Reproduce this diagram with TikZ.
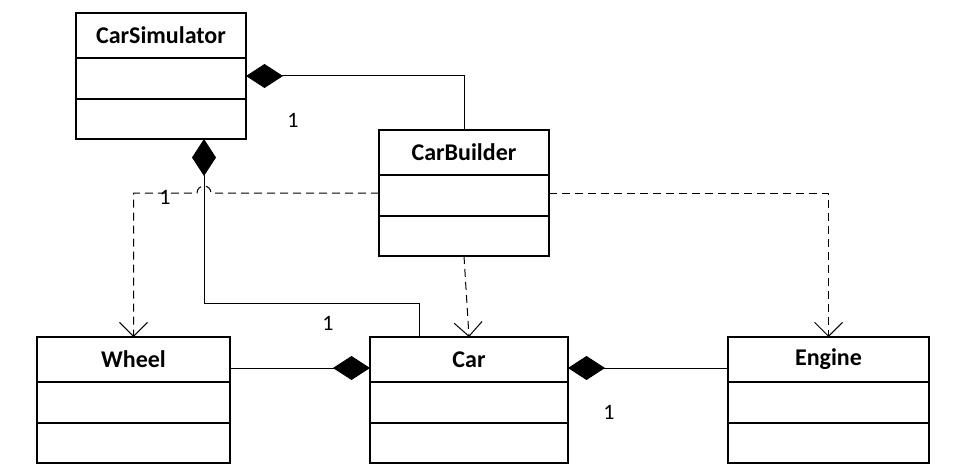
\documentclass[tikz,border=0pt]{standalone}
\usepackage{fontspec}
\setmainfont{Carlito}
\usetikzlibrary{arrows.meta}

\tikzset{
  classbox/.style={draw, line width=2pt, minimum height=126pt, inner sep=0pt, outer sep=0pt},
  comp/.style={line width=1pt, {Diamond[length=37pt,width=24pt]}-},
  dep/.style={line width=1pt, dash pattern=on 8pt off 5pt, -{Straight Barb[length=14pt,width=28pt]}},
  mult/.style={font=\fontsize{22}{26}\selectfont}
}

% class box: name, x, y, width, title
\newcommand{\umlclass}[5]{%
  \node[classbox, minimum width=#4] (#1) at (#2,#3) {};
  \node[font=\fontsize{24}{28}\selectfont\bfseries] (#1-title) at ([yshift=-22.5pt]#1.north) {#5};
  \foreach \d in {45pt,86pt}
    \draw[line width=2pt] ([yshift=-\d]#1.north west) -- ([yshift=-\d]#1.north east);
}

\begin{document}
\begin{tikzpicture}[x=1pt, y=1pt]
  \useasboundingbox (0,0) rectangle (978,475);

  \umlclass{carsim}{161}{399}{170pt}{CarSimulator}
  \umlclass{builder}{464}{282}{170pt}{CarBuilder}
  \umlclass{wheel}{133.5}{75}{193pt}{Wheel}
  \umlclass{car}{469}{75}{198pt}{Car}
  \umlclass{engine}{828.5}{75}{201pt}{Engine}

  % compositions
  \draw[comp] (carsim.east) -| (builder.north);
  \draw[comp] ([xshift=43pt]carsim.south) -- ++(0,-164) -| ([xshift=-50pt]car.north);
  \draw[comp] ([yshift=32pt]car.west) -- ([yshift=32pt]wheel.east);
  \draw[comp] ([yshift=32pt]car.east) -- ([yshift=32pt]engine.west);

  % dependencies
  \coordinate (hop) at ([xshift=43pt]carsim.south |- builder.west);
  \draw[dep] (builder.west) -- ([xshift=7pt]hop) arc[start angle=0, end angle=180, radius=7pt] -| (wheel.north);
  \draw[dep] (builder.south) -- (car.north);
  \draw[dep] (builder.east) -| (engine.north);

  % multiplicities
  \node[mult] (m1) at (293,355) {1};
  \node[mult] (m2) at (165,278) {1};
  \node[mult] (m3) at (328,152) {1};
  \node[mult] (m4) at (609,63) {1};
\end{tikzpicture}
\end{document}
